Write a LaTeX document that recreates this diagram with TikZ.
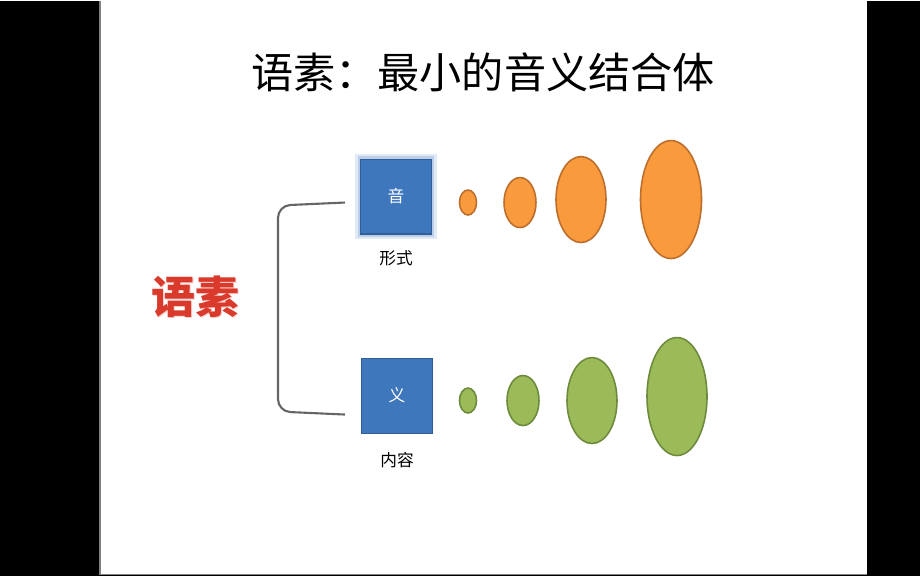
\documentclass[tikz,border=0pt]{standalone}
\usepackage{fontspec}
\setmainfont{Noto Sans CJK SC}
\usetikzlibrary{positioning,shapes.geometric}

\definecolor{boxblue}{HTML}{3F77BD}
\definecolor{boxedge}{HTML}{2F5E98}
\definecolor{orbora}{HTML}{F99A3C}
\definecolor{orboraedge}{HTML}{BE6E2C}
\definecolor{orbgrn}{HTML}{9BBB59}
\definecolor{orbgrnedge}{HTML}{6E8A3C}
\definecolor{morphred}{HTML}{D93A2B}

\begin{document}
\begin{tikzpicture}[x=0.02cm,y=-0.02cm,
  box/.style={draw=boxedge,fill=boxblue,line width=0.6pt,inner sep=0pt,
    minimum width=1.42cm,minimum height=1.5cm,text=white,
    font=\fontsize{9.5}{11}\selectfont},
  tag/.style={font=\fontsize{9.5}{11}\selectfont},
  orb/.style 2 args={ellipse,inner sep=0pt,line width=0.9pt,
    minimum width=#1cm,minimum height=#2cm}]

  % slide and black border
  \fill[black] (0,0) rectangle (920,575);
  \fill[white] (100,0) rectangle (867,574);
  \draw[gray,line width=0.6pt] (100,0) -- (100,574) -- (867,574);

  % title
  \node (Title) at (483,72) {\fontsize{24}{28}\selectfont 语素：最小的音义结合体};

  % the morpheme word with its shadow
  \node[text=morphred!25,font=\fontsize{25}{30}\selectfont\bfseries] at (196.5,297.5) {语素};
  \node[text=morphred,font=\fontsize{25}{30}\selectfont\bfseries] (Morph) at (195,296) {语素};

  % sound and meaning
  \node[box,draw=boxblue!15,line width=6pt] at (396,196) {};
  \node[box,draw=boxblue!35,line width=3pt] at (396,196) {};
  \node[box] (Yin) at (396,196) {音};
  \node[tag] (YinTag) [below=0.2cm of Yin] {形式};
  \node[box] (Yi) at (397,395) {义};
  \node[tag] (YiTag) [below=0.26cm of Yi] {内容};

  % bracket
  \coordinate (BrTop) at (345,202);
  \coordinate (BrBot) at (345,414);
  \draw[black!60,line width=1.2pt,rounded corners=7pt]
    (BrTop) -- (278,205) -- (278,411) -- (BrBot);

  % growing ellipses
  \foreach \n/\x/\y/\w/\h in {1/468/202/0.34/0.5, 2/520/202/0.64/1.0,
      3/581/199/1.0/1.72, 4/671/199/1.22/2.36}
    \node[orb={\w}{\h},draw=orboraedge,fill=orbora] (Form\n) at (\x,\y) {};
  \foreach \n/\x/\y/\w/\h in {1/468/400/0.34/0.5, 2/523/400/0.64/1.0,
      3/592/400/1.0/1.72, 4/677/396/1.2/2.36}
    \node[orb={\w}{\h},draw=orbgrnedge,fill=orbgrn] (Sense\n) at (\x,\y) {};
\end{tikzpicture}
\end{document}
